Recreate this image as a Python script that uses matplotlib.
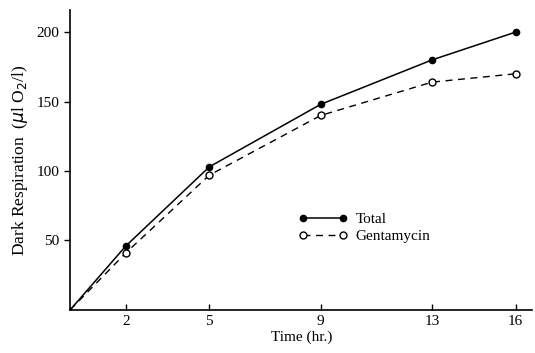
import matplotlib.pyplot as plt

# Data
time_hr = [0, 2, 5, 9, 13, 16]
total = [0, 46, 103, 148, 180, 200]
gentamycin = [0, 41, 97, 140, 164, 170]

x_ticks = [2, 5, 9, 13, 16]
y_ticks = [50, 100, 150, 200]

plt.rcParams['font.family'] = ['Liberation Serif', 'DejaVu Serif']
plt.rcParams['font.size'] = 11

fig = plt.figure(figsize=(5.35, 3.53), dpi=100)
ax = fig.add_axes([0.131, 0.122, 0.864, 0.85])

ax.plot(time_hr, total, color='black', linewidth=1.1, marker='o',
        markersize=4.5, markerfacecolor='black', markevery=list(range(1, 6)),
        label='Total')
ax.plot(time_hr, gentamycin, color='black', linewidth=1.0, linestyle=(0, (5, 4)),
        marker='o', markersize=5, markerfacecolor='white',
        markevery=list(range(1, 6)), label='Gentamycin')

ax.set_xlim(0, 16.6)
ax.set_ylim(0, 216)
ax.set_xticks(x_ticks)
ax.set_yticks(y_ticks)
ax.tick_params(axis='x', direction='in', length=4, width=1, labelsize=11)
ax.tick_params(axis='y', direction='out', length=4, width=1, labelsize=11)

for side in ['top', 'right']:
    ax.spines[side].set_visible(False)
for side in ['left', 'bottom']:
    ax.spines[side].set_linewidth(1.2)

ax.set_xlabel('Time (hr.)', labelpad=2, fontsize=11)
ax.set_ylabel(r'Dark Respiration  ($\mu$l O$_2$/l)', labelpad=5, fontsize=12.5)

ax.legend(loc='upper left', bbox_to_anchor=(0.465, 0.37), frameon=False,
          numpoints=2, handlelength=3.2, handletextpad=0.5, labelspacing=0.2,
          fontsize=11)

fig.savefig('out.png', dpi=100, facecolor='white')
